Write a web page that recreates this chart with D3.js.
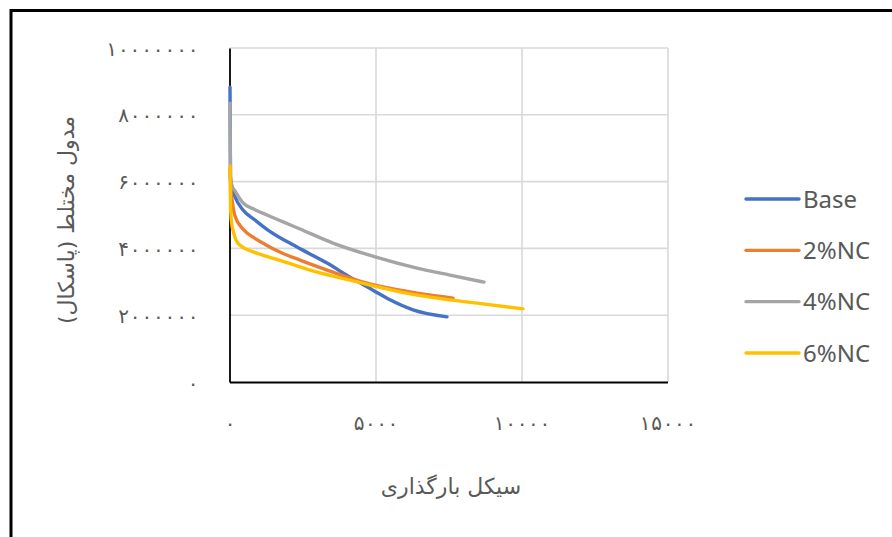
<!DOCTYPE html>
<html>
<head>
<meta charset="utf-8">
<script src="https://cdn.jsdelivr.net/npm/d3@7"></script>
<style>
  html, body { margin: 0; padding: 0; background: #fff; }
  svg { display: block; }
</style>
</head>
<body>
<svg id="chart" width="892" height="537"></svg>
<script>
// ---- data ----
const seriesNames = ["Base", "2%NC", "4%NC", "6%NC"];
const seriesColors = ["#4472C4", "#ED7D31", "#A5A5A5", "#FFC000"];

const baseX = [0, 17, 68, 171, 445, 856, 1301, 2295, 3322, 4110, 4897, 5479, 6267, 7432];
const baseY = [8830000, 6110000, 5810000, 5540000, 5150000, 4850000, 4550000, 4040000, 3560000, 3140000, 2750000, 2460000, 2160000, 1950000];

const nc2X = [0, 34, 86, 171, 445, 856, 1267, 1781, 2397, 3527, 4692, 5822, 7637];
const nc2Y = [6350000, 5750000, 5360000, 4970000, 4580000, 4300000, 4090000, 3860000, 3650000, 3290000, 2960000, 2750000, 2510000];

const nc4X = [0, 17, 68, 171, 445, 856, 1267, 1781, 2397, 3527, 5000, 6404, 7534, 8699];
const nc4Y = [8350000, 6110000, 5870000, 5720000, 5360000, 5160000, 5000000, 4810000, 4580000, 4160000, 3740000, 3410000, 3200000, 2990000];

const nc6X = [0, 17, 51, 120, 205, 377, 822, 1267, 1815, 2979, 4110, 5240, 6404, 7534, 8664, 10034];
const nc6Y = [6470000, 5300000, 4790000, 4490000, 4250000, 4070000, 3890000, 3760000, 3610000, 3290000, 3050000, 2810000, 2600000, 2460000, 2340000, 2190000];

const xTicks = [0, 5000, 10000, 15000];
const yTicks = [0, 2000000, 4000000, 6000000, 8000000, 10000000];
const xTitle = "سیکل بارگذاری";
const yTitle = "مدول مختلط (پاسکال)";

// ---- helpers ----
const faDigits = "۰۱۲۳۴۵۶۷۸۹";
const toFa = v => String(v).replace(/[0-9]/g, d => faDigits[+d]);

const series = [
  {name: seriesNames[0], color: seriesColors[0], xs: baseX, ys: baseY},
  {name: seriesNames[1], color: seriesColors[1], xs: nc2X, ys: nc2Y},
  {name: seriesNames[2], color: seriesColors[2], xs: nc4X, ys: nc4Y},
  {name: seriesNames[3], color: seriesColors[3], xs: nc6X, ys: nc6Y}
];

const svg = d3.select("#chart");
const plot = {left: 230, right: 668, top: 48, bottom: 382};

const x = d3.scaleLinear().domain([0, 15000]).range([plot.left, plot.right]);
const y = d3.scaleLinear().domain([0, 10000000]).range([plot.bottom, plot.top]);

// frame (left and top edges visible)
svg.append("path")
  .attr("d", "M11,537 V10.5 H892")
  .attr("fill", "none").attr("stroke", "#000").attr("stroke-width", 3);

// gridlines
const grid = svg.append("g");
grid.selectAll("line.h").data(yTicks.filter(d => d > 0)).join("line")
  .attr("x1", plot.left).attr("x2", plot.right)
  .attr("y1", d => y(d)).attr("y2", d => y(d))
  .attr("stroke", "#D9D9D9").attr("stroke-width", 1.6);
grid.selectAll("line.v").data(xTicks.filter(d => d > 0)).join("line")
  .attr("y1", plot.top).attr("y2", plot.bottom)
  .attr("x1", d => x(d)).attr("x2", d => x(d))
  .attr("stroke", "#D9D9D9").attr("stroke-width", 1.6);

const tickFont = sel => sel
  .attr("fill", "#595959")
  .style("font-family", "DejaVu Sans")
  .style("font-size", "20px")
  .attr("lengthAdjust", "spacing")
  .attr("textLength", function() { return this.textContent.length * 11.9 - 3; });

// axes via d3
const xAxis = svg.append("g").attr("transform", `translate(-0.5,${plot.bottom})`)
  .call(d3.axisBottom(x).tickValues(xTicks).tickSize(0).tickFormat(toFa));
xAxis.select(".domain").attr("stroke", "#000").attr("stroke-width", 1.8);
xAxis.selectAll("text").attr("y", 41).attr("dy", "0.35em").call(tickFont);

const yAxis = svg.append("g").attr("transform", `translate(${plot.left - 0.5},0)`)
  .call(d3.axisLeft(y).tickValues(yTicks).tickSize(0).tickFormat(toFa));
yAxis.select(".domain").attr("stroke", "#000").attr("stroke-width", 1.8);
yAxis.selectAll("text").attr("x", -31).attr("dy", "0.35em").call(tickFont);

// lines
const line = d3.line()
  .x(d => x(d[0])).y(d => y(d[1]))
  .curve(d3.curveMonotoneX);

svg.append("g").selectAll("path").data(series).join("path")
  .attr("d", s => line(s.xs.map((v, i) => [v, s.ys[i]])))
  .attr("fill", "none")
  .attr("stroke", s => s.color)
  .attr("stroke-width", 3.4)
  .attr("stroke-linejoin", "round")
  .attr("stroke-linecap", "round");

// titles
svg.append("text")
  .attr("x", 451).attr("y", 494)
  .attr("text-anchor", "middle")
  .attr("fill", "#595959")
  .style("font-family", "DejaVu Sans")
  .style("font-size", "22px")
  .attr("direction", "rtl")
  .text(xTitle);

svg.append("text")
  .attr("transform", "translate(74,220) rotate(-90)")
  .attr("text-anchor", "middle")
  .attr("fill", "#595959")
  .style("font-family", "DejaVu Sans")
  .style("font-size", "22px")
  .attr("direction", "rtl")
  .text(yTitle);

// legend
const legendY = d3.scalePoint().domain(seriesNames).range([199, 353]);
const lg = svg.append("g").selectAll("g").data(series).join("g")
  .attr("transform", s => `translate(0,${legendY(s.name)})`);
lg.append("line")
  .attr("x1", 746).attr("x2", 799).attr("y1", 0).attr("y2", 0)
  .attr("stroke", s => s.color).attr("stroke-width", 3.4)
  .attr("stroke-linecap", "round");
lg.append("text")
  .attr("x", 803).attr("y", 0).attr("dy", "0.36em")
  .attr("fill", "#595959")
  .style("font-family", "'Noto Sans'")
  .style("font-size", "24px")
  .text(s => s.name);
</script>
</body>
</html>
